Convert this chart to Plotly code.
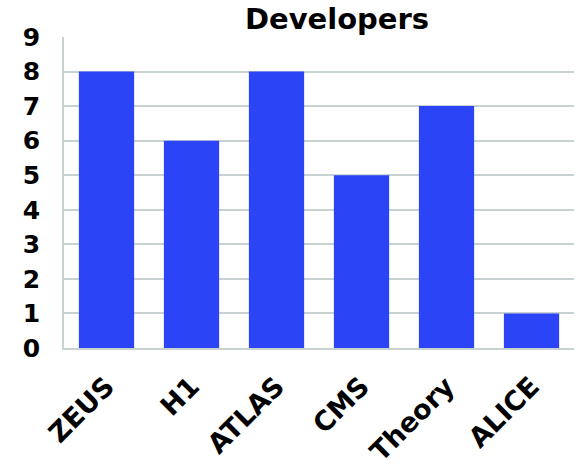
import plotly.graph_objects as go

categories = ["ZEUS", "H1", "ATLAS", "CMS", "Theory", "ALICE"]
developers = [8, 6, 8, 5, 7, 1]
y_ticks = list(range(0, 10))

FONT = "DejaVu Sans"
W, H = 578, 472

fig = go.Figure(go.Bar(
    x=categories, y=developers,
    marker=dict(color="#2A44F6", line=dict(width=0)),
))

fig.update_layout(
    width=W, height=H,
    margin=dict(l=64, r=4, t=37, b=124, autoexpand=False),
    paper_bgcolor="white", plot_bgcolor="white",
    bargap=0.35,
    showlegend=False,
    title=dict(text="<b>Developers</b>", x=337/W, xanchor="center", y=1 - 19/H, yanchor="middle",
               font=dict(family=FONT, size=29, color="black")),
    font=dict(family=FONT, color="black"),
)
fig.update_yaxes(
    range=[0, 9], tickvals=y_ticks, ticktext=[f"<b>{v}</b>" for v in y_ticks],
    showgrid=True, gridcolor="#C8D2D2", gridwidth=1.5,
    showline=True, linecolor="#C8D2D2", linewidth=1.5,
    zeroline=False, ticks="", ticklabelstandoff=17, automargin=False,
    tickfont=dict(family=FONT, size=25, color="black"),
)
fig.update_xaxes(
    tickvals=categories, ticktext=[f"<b>{c}</b>" for c in categories],
    tickangle=-45, showline=True, linecolor="#C8D2D2", linewidth=1.5,
    showgrid=False, ticks="", ticklabelstandoff=10, automargin=False,
    tickfont=dict(family=FONT, size=27, color="black"),
)

fig.write_html(
    "out.html",
    config={"displayModeBar": False},
    post_script="document.body.style.margin='0';document.body.style.overflow='hidden';",
)
